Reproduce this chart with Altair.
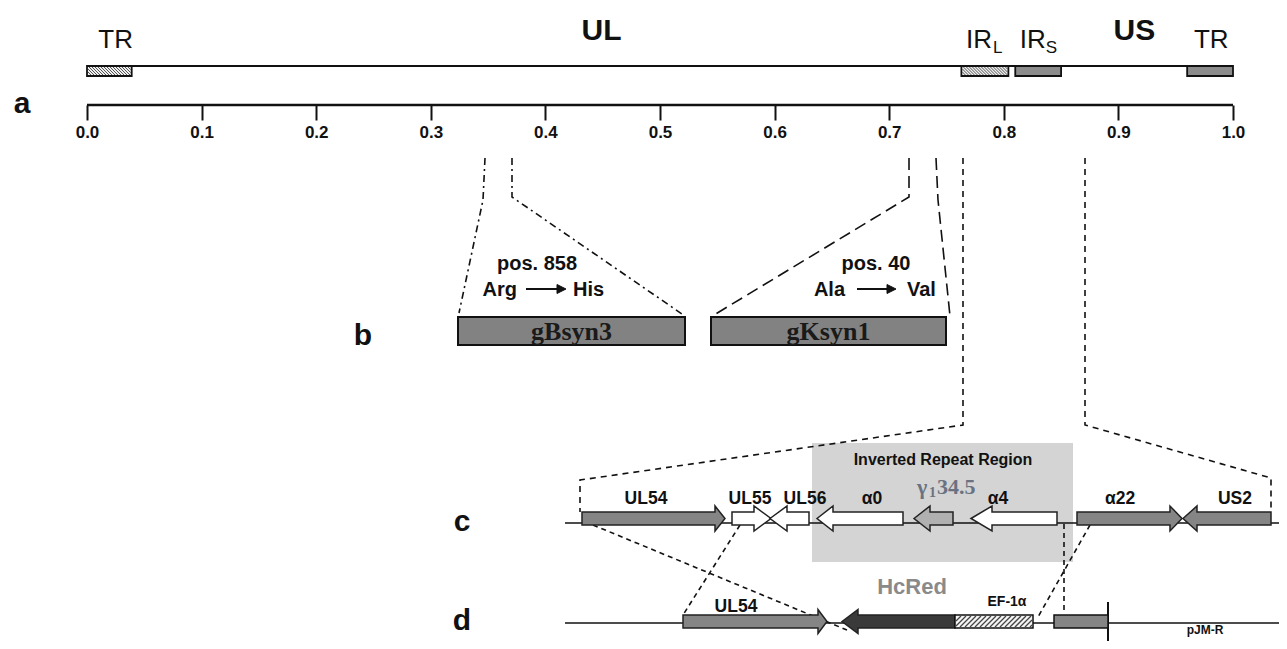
import altair as alt
import pandas as pd

# ---------------- canvas: diagram units = page pixels ----------------
W, H = 1271, 633
X_DOM = [8, 1279]
Y_DOM = [8, 641]
G0, G1 = 87, 1233  # where genome fraction 0.0 and 1.0 sit on the diagram
FR_DOM = [(X_DOM[0] - G0) / (G1 - G0), (X_DOM[1] - G0) / (G1 - G0)]
SANS = "Liberation Sans, Arial, sans-serif"
SERIF = "Liberation Serif, Times New Roman, serif"

# ---------------- panel a : genome map (genome fraction) ----------------
genome_ticks = [0.0, 0.1, 0.2, 0.3, 0.4, 0.5, 0.6, 0.7, 0.8, 0.9, 1.0]
region_names = ["TR", "IRL", "IRS", "TR2"]
region_start = [0.0, 0.763, 0.810, 0.960]
region_end = [0.039, 0.804, 0.850, 1.000]
region_fill = ["hatch", "hatch", "#8c8c8c", "#8c8c8c"]
region_top, region_bottom = 66, 76
genome_line_y = 66
axis_line_y = 105

big_labels = ["UL", "US"]
big_label_pos = [0.449, 0.914]
tr_labels = ["TR", "TR"]
tr_label_pos = [0.025, 0.981]
ir_labels = ["IR", "IR"]
ir_label_pos = [0.767, 0.814]
ir_subs = ["L", "S"]
ir_sub_pos = [0.7905, 0.8365]

# ---------------- panel b : mutated glycoproteins ----------------
gene_b_names = ["gBsyn3", "gKsyn1"]
gene_b_x0 = [458, 711]
gene_b_x1 = [685, 946]
gene_b_y0, gene_b_y1 = 317, 345
mut_pos = ["pos. 858", "pos. 40"]
mut_pos_x = [537, 876]
mut_from = ["Arg", "Ala"]
mut_from_x = [517, 845]
mut_to = ["His", "Val"]
mut_to_x = [573, 907]
mut_arrow_x0 = [526, 857]
mut_arrow_x1 = [566, 896]
mut_pos_y, mut_aa_y = 270, 296

# connectors (polylines), grouped by line style
conn_dashdot = {"gB_left": [(485, 158), (483, 200), (459, 313)],
                "gB_right": [(512, 158), (512, 197), (682, 314)]}
conn_longdash = {"gK_left": [(909, 158), (909, 197), (714, 315)],
                 "gK_right": [(936, 158), (938, 200), (950, 316)]}
conn_short = {"c_left": [(963, 158), (963, 425), (580, 480), (580, 512)],
              "c_right": [(1085, 158), (1085, 425), (1271, 478), (1271, 512)]}
conn_fine = {"d1": [(593, 525), (847, 630)],
             "d2": [(740, 525), (683, 615)],
             "d3": [(1064, 524), (1064, 612)],
             "d4": [(1090, 525), (1038, 617)]}

# ---------------- panel c : wild-type region ----------------
c_line_y = 523
c_cy, c_bh, c_hh = 518.5, 6.5, 12.5
c_arrow_names = ["UL54", "UL55", "UL56", "a0", "g34.5", "a4", "a22", "US2"]
c_arrow_start = [582, 732, 809, 903, 953, 1057, 1077, 1271]
c_arrow_tip = [725, 771, 770, 817, 914, 971, 1182, 1183]
c_arrow_head = [10, 17, 17, 16, 16, 21, 12, 14]
c_arrow_fill = ["#858585", "#ffffff", "#ffffff", "#ffffff", "#b0b0b0", "#ffffff", "#858585", "#858585"]
c_labels = ["UL54", "UL55", "UL56", "α0", "α4", "α22", "US2"]
c_label_x = [646, 750, 805, 872, 998, 1120, 1235]
c_label_y = 504
ir_box = (812, 1073, 443, 562)

# ---------------- panel d : pJM-R construct ----------------
d_line_y = 623
d_cy, d_bh, d_hh = 621.5, 6.5, 12
d_arrow_names = ["UL54d", "HcRed"]
d_arrow_start = [683, 955]
d_arrow_tip = [827, 842]
d_arrow_head = [9, 16]
d_arrow_fill = ["#858585", "#3a3a3a"]
ef_box = (955, 1033, 615, 628)
d_gray_box = (1054, 1108, 615, 628)
d_bar_x = 1108

xsc = alt.Scale(domain=X_DOM, nice=False, zero=False)
fsc = alt.Scale(domain=FR_DOM, nice=False, zero=False)
ysc = alt.Scale(domain=Y_DOM, reverse=True, nice=False, zero=False)


def X(f, scale=xsc):
    return alt.X(f, type="quantitative", scale=scale, axis=None)


def Y(f):
    return alt.Y(f, type="quantitative", scale=ysc, axis=None, stack=None)


def hatch(x0, x1, y0, y1, step, direction):
    h = y1 - y0
    segs = []
    if direction == "back":
        s = x0 - h
        while s < x1:
            t0, t1 = max(0, x0 - s), min(h, x1 - s)
            if t1 > t0:
                segs.append((s + t0, y0 + t0, s + t1, y0 + t1))
            s += step
    else:
        s = x0
        while s < x1 + h:
            t0, t1 = max(0, s - x1), min(h, s - x0)
            if t1 > t0:
                segs.append((s - t0, y0 + t0, s - t1, y0 + t1))
            s += step
    return segs


def arrow_rows(names, starts, tips, heads, fills, cy, bh, hh):
    # points listed in increasing x so the area path is an arrow outline
    rows = []
    eps = 0.01
    for n, s, t, hd, f in zip(names, starts, tips, heads, fills):
        if t > s:
            b = t - hd
            pts = [(s, cy - bh, cy + bh), (b - eps, cy - bh, cy + bh), (b, cy - hh, cy + hh), (t, cy, cy)]
        else:
            b = t + hd
            pts = [(t, cy, cy), (b, cy - hh, cy + hh), (b + eps, cy - bh, cy + bh), (s, cy - bh, cy + bh)]
        for px, py, py2 in pts:
            rows.append({"id": n, "x": px, "y": py, "y2": py2, "fill": f})
    return pd.DataFrame(rows)


def arrow_layer(df, sw=1.5, stroke="#222"):
    return alt.Chart(df).mark_area(orient="vertical", stroke=stroke, strokeWidth=sw,
                                   interpolate="linear").encode(
        x=X("x"), y=Y("y"), y2="y2:Q", detail="id:N",
        color=alt.Color("fill:N", scale=None))


def poly_layer(conns, dash):
    rows = []
    for k, pts in conns.items():
        for i, (px, py) in enumerate(pts):
            rows.append({"id": k, "o": i, "x": px, "y": py})
    return alt.Chart(pd.DataFrame(rows)).mark_line(
        color="#111", strokeWidth=1.6, strokeDash=dash).encode(
        x=X("x"), y=Y("y"), detail="id:N", order="o:Q")


def rect_layer(df, scale=xsc, stroke="#111", sw=1.5):
    return alt.Chart(df).mark_rect(stroke=stroke, strokeWidth=sw).encode(
        x=X("x0", scale), x2="x1:Q", y=Y("y0"), y2="y1:Q",
        color=alt.Color("fill:N", scale=None))


def seg_layer(segs, scale=xsc, color="#111", sw=1.0, dash=None):
    df = pd.DataFrame(segs, columns=["x0", "y0", "x1", "y1"])
    kw = dict(color=color, strokeWidth=sw)
    if dash:
        kw["strokeDash"] = dash
    return alt.Chart(df).mark_rule(**kw).encode(
        x=X("x0", scale), x2="x1:Q", y=Y("y0"), y2="y1:Q")


def text_layer(xv, yv, labels, scale=xsc, **mk):
    df = pd.DataFrame({"x": xv, "y": yv, "label": labels})
    return alt.Chart(df).mark_text(**mk).encode(x=X("x", scale), y=Y("y"), text="label:N")


layers = []

# --- inverted repeat background
layers.append(rect_layer(pd.DataFrame([{"x0": ir_box[0], "x1": ir_box[1], "y0": ir_box[2],
                                         "y1": ir_box[3], "fill": "#d4d4d4"}]), stroke="#d4d4d4", sw=0))

# --- baselines of c and d
layers.append(seg_layer([(565, c_line_y, X_DOM[1], c_line_y), (565, d_line_y, X_DOM[1], d_line_y)],
                        sw=1.5))
layers.append(seg_layer([(d_bar_x, 602, d_bar_x, Y_DOM[1])], sw=2))

# --- connectors
layers.append(poly_layer(conn_dashdot, [7, 4, 2, 4]))
layers.append(poly_layer(conn_longdash, [12, 6]))
layers.append(poly_layer(conn_short, [6, 5]))
layers.append(poly_layer(conn_fine, [5, 4]))

# --- panel b boxes
b_df = pd.DataFrame({"x0": gene_b_x0, "x1": gene_b_x1, "y0": [gene_b_y0] * 2,
                     "y1": [gene_b_y1] * 2, "fill": ["#828282"] * 2})
layers.append(rect_layer(b_df, sw=2))

# --- arrows c and d
arr = pd.concat([
    arrow_rows(c_arrow_names, c_arrow_start, c_arrow_tip, c_arrow_head, c_arrow_fill, c_cy, c_bh, c_hh),
    arrow_rows(d_arrow_names, d_arrow_start, d_arrow_tip, d_arrow_head, d_arrow_fill, d_cy, d_bh, d_hh),
])
layers.append(arrow_layer(arr))

# --- d boxes (EF-1a hatched, gray box)
d_boxes = pd.DataFrame([
    {"x0": ef_box[0], "x1": ef_box[1], "y0": ef_box[2], "y1": ef_box[3], "fill": "#f4f4f4"},
    {"x0": d_gray_box[0], "x1": d_gray_box[1], "y0": d_gray_box[2], "y1": d_gray_box[3], "fill": "#858585"},
])
layers.append(rect_layer(d_boxes))
layers.append(seg_layer(hatch(ef_box[0] + 1, ef_box[1] - 1, ef_box[2] + 1, ef_box[3] - 1, 5, "fwd"),
                        color="#444", sw=1.3))

# --- panel a genome line, regions, hatch, axis
layers.append(seg_layer([(0.0, genome_line_y, 1.0, genome_line_y)], scale=fsc, sw=2))
reg_df = pd.DataFrame({"x0": region_start, "x1": region_end, "y0": [region_top] * 4,
                       "y1": [region_bottom] * 4,
                       "fill": ["#eeeeee" if f == "hatch" else f for f in region_fill]})
layers.append(rect_layer(reg_df, scale=fsc, sw=1.8))
hsegs = []
k = G1 - G0
for s, e, f in zip(region_start, region_end, region_fill):
    if f == "hatch":
        for (a, b, c, d) in hatch(G0 + s * k + 1, G0 + e * k - 1, region_top + 1, region_bottom - 1, 3, "back"):
            hsegs.append(((a - G0) / k, b, (c - G0) / k, d))
layers.append(seg_layer(hsegs, scale=fsc, color="#555", sw=1.0))

axis_df = pd.DataFrame({"x0": [0.0], "x1": [1.0], "y": [axis_line_y]})
layers.append(alt.Chart(axis_df).mark_rule(color="#111", strokeWidth=2.5).encode(
    x=alt.X("x0:Q", scale=fsc, axis=alt.Axis(
        orient="bottom", offset=-(Y_DOM[1] - axis_line_y), values=genome_ticks, format=".1f",
        domain=False, grid=False, ticks=True, tickSize=15, tickWidth=2, tickColor="#111",
        labelFontSize=17, labelFontWeight="bold", labelColor="#111", labelFont=SANS,
        labelPadding=4, labelFlush=False, labelOverlap=False, title=None)),
    x2="x1:Q", y=Y("y")))

# --- texts, panel a
layers.append(text_layer(big_label_pos, [40, 40], big_labels, scale=fsc, font=SANS, fontSize=30,
                         fontWeight="bold", baseline="alphabetic", align="center", color="#111"))
layers.append(text_layer(tr_label_pos, [48, 48], tr_labels, scale=fsc, font=SANS, fontSize=26,
                         baseline="alphabetic", align="center", color="#111"))
layers.append(text_layer(ir_label_pos, [48, 48], ir_labels, scale=fsc, font=SANS, fontSize=26,
                         baseline="alphabetic", align="left", color="#111"))
layers.append(text_layer(ir_sub_pos, [53, 53], ir_subs, scale=fsc, font=SANS, fontSize=17,
                         baseline="alphabetic", align="left", color="#111"))

# --- panel letters
layers.append(text_layer([22, 363, 462, 462], [113, 345, 531, 630], ["a", "b", "c", "d"], font=SANS,
                         fontSize=30, fontWeight="bold", baseline="alphabetic", align="center", color="#111"))

# --- panel b texts
layers.append(text_layer(mut_pos_x, [mut_pos_y] * 2, mut_pos, font=SANS, fontSize=20, fontWeight="bold",
                         baseline="alphabetic", align="center", color="#111"))
layers.append(text_layer(mut_from_x, [mut_aa_y] * 2, mut_from, font=SANS, fontSize=20, fontWeight="bold",
                         baseline="alphabetic", align="right", color="#111"))
layers.append(text_layer(mut_to_x, [mut_aa_y] * 2, mut_to, font=SANS, fontSize=20, fontWeight="bold",
                         baseline="alphabetic", align="left", color="#111"))
layers.append(seg_layer([(a, 289, b - 8, 289) for a, b in zip(mut_arrow_x0, mut_arrow_x1)], sw=2))
mut_heads = arrow_rows(["h1", "h2"], [b - 9 for b in mut_arrow_x1], mut_arrow_x1, [9, 9], ["#111", "#111"],
                       289, 0.5, 4.5)
layers.append(arrow_layer(mut_heads, sw=1, stroke="#111"))
layers.append(text_layer([(a + b) / 2 for a, b in zip(gene_b_x0, gene_b_x1)], [340, 340], gene_b_names,
                         font=SERIF, fontSize=26, fontWeight="bold", baseline="alphabetic", align="center",
                         color="#1a1a1a"))

# --- panel c texts
layers.append(text_layer(c_label_x, [c_label_y] * len(c_labels), c_labels, font=SANS, fontSize=17.5,
                         fontWeight="bold", baseline="alphabetic", align="center", color="#111"))
layers.append(text_layer([943], [465], ["Inverted Repeat Region"], font=SANS, fontSize=16,
                         fontWeight="bold", baseline="alphabetic", align="center", color="#111"))
layers.append(text_layer([917], [494], ["γ"], font=SERIF, fontSize=22, fontWeight="bold",
                         baseline="alphabetic", align="left", color="#6a7282"))
layers.append(text_layer([929], [497], ["1"], font=SERIF, fontSize=14, fontWeight="bold",
                         baseline="alphabetic", align="left", color="#6a7282"))
layers.append(text_layer([937], [494], ["34.5"], font=SERIF, fontSize=22, fontWeight="bold",
                         baseline="alphabetic", align="left", color="#6a7282"))

# --- panel d texts
layers.append(text_layer([736], [612], ["UL54"], font=SANS, fontSize=17.5, fontWeight="bold",
                         baseline="alphabetic", align="center", color="#111"))
layers.append(text_layer([912], [594], ["HcRed"], font=SANS, fontSize=22, fontWeight="bold",
                         baseline="alphabetic", align="center", color="#8a8a8a"))
layers.append(text_layer([1007], [606], ["EF-1α"], font=SANS, fontSize=14, fontWeight="bold",
                         baseline="alphabetic", align="center", color="#111"))
layers.append(text_layer([1205], [634], ["pJM-R"], font=SANS, fontSize=12, fontWeight="bold",
                         baseline="alphabetic", align="center", color="#111"))

chart = alt.layer(*layers).resolve_scale(x="independent").properties(
    width=W, height=H, padding=0, autosize=alt.AutoSizeParams(type="none"), background="white"
).configure_view(stroke=None)

chart.save("out.html", embed_options={"renderer": "svg", "actions": False})
